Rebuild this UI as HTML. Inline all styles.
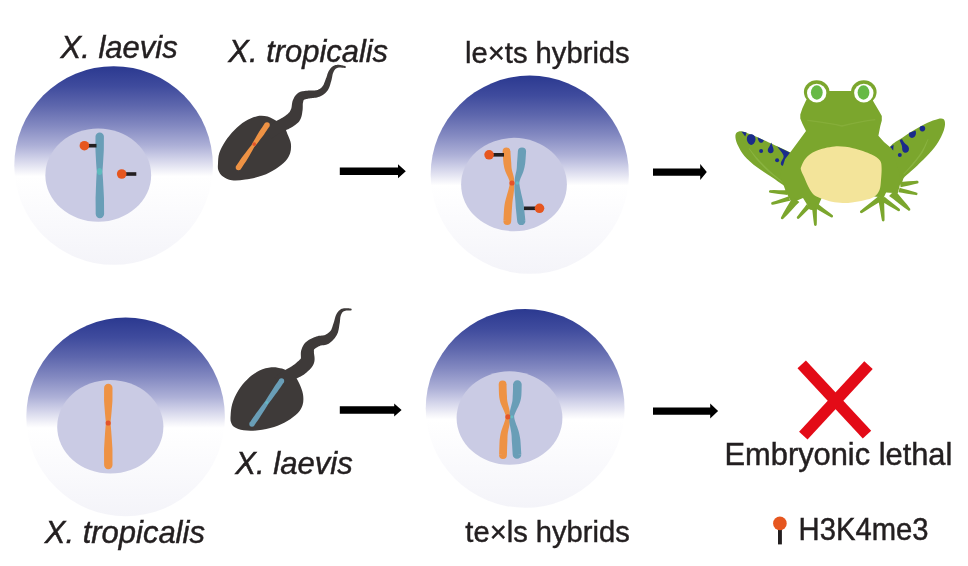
<!DOCTYPE html>
<html><head><meta charset="utf-8"><title>Xenopus hybrids</title>
<style>
html,body{margin:0;padding:0;background:#fff;width:968px;height:566px;overflow:hidden}
svg{display:block;will-change:transform}
text{font-family:"Liberation Sans",sans-serif;fill:#231f20;stroke:#231f20;stroke-width:0.45}
</style></head><body>
<svg width="968" height="566" viewBox="0 0 968 566"><defs><linearGradient id="cg" x1="0" y1="0" x2="0" y2="1">
<stop offset="0" stop-color="#2b3990"/>
<stop offset="0.1" stop-color="#3f4b9d"/>
<stop offset="0.2" stop-color="#5e67ad"/>
<stop offset="0.3" stop-color="#8389c1"/>
<stop offset="0.4" stop-color="#adb0d7"/>
<stop offset="0.47" stop-color="#d3d4ea"/>
<stop offset="0.53" stop-color="#f3f3f9"/>
<stop offset="0.555" stop-color="#ffffff"/>
<stop offset="0.8" stop-color="#f9f9fc"/>
<stop offset="1" stop-color="#f4f4f9"/>
</linearGradient></defs><circle cx="113.6" cy="165.5" r="99.3" fill="url(#cg)"/>
<circle cx="529.75" cy="174.7" r="99.1" fill="url(#cg)"/>
<circle cx="125.6" cy="416.9" r="99.3" fill="url(#cg)"/>
<circle cx="525.15" cy="408.4" r="99.4" fill="url(#cg)"/>
<ellipse cx="98.25" cy="175.15" rx="52.9" ry="46.6" fill="#cacbe4"/>
<ellipse cx="514" cy="184.55" rx="52.9" ry="46.7" fill="#cacbe4"/>
<ellipse cx="110.3" cy="426.8" rx="53.1" ry="46.8" fill="#cacbe4"/>
<ellipse cx="509.5" cy="418.05" rx="52.9" ry="46.7" fill="#cacbe4"/>
<path d="M95.5,136.59 L95.5,137.79 L95.49,139.22 L95.48,140.85 L95.47,142.67 L95.46,144.65 L95.45,146.78 L95.44,149.02 L95.52,151.38 L95.64,153.81 L95.77,156.31 L95.9,158.85 L96.05,161.42 L96.2,163.98 L96.37,166.54 L96.56,169.05 L96.79,171.51 L96.59,174.04 L96.43,176.76 L96.29,179.62 L96.16,182.61 L96.03,185.67 L95.9,188.78 L95.79,191.89 L95.68,194.96 L95.57,197.97 L95.59,200.88 L95.62,203.64 L95.64,206.22 L95.66,208.59 L95.67,210.7 L95.69,212.53 L95.7,214.03 L104.1,213.97 L104.09,212.46 L104.07,210.64 L104.06,208.52 L104.04,206.15 L104.01,203.57 L103.99,200.81 L103.96,197.9 L103.81,194.9 L103.65,191.83 L103.49,188.72 L103.32,185.62 L103.15,182.56 L102.98,179.59 L102.81,176.72 L102.63,174.01 L102.41,171.49 L102.63,169.04 L102.82,166.54 L102.99,163.99 L103.15,161.43 L103.31,158.87 L103.46,156.33 L103.6,153.84 L103.74,151.41 L103.84,149.06 L103.85,146.82 L103.86,144.69 L103.87,142.71 L103.88,140.9 L103.89,139.26 L103.9,137.83 L103.9,136.61Z M95.5,136.6 a4.2,4.2 0 1,0 8.4,0 a4.2,4.2 0 1,0 -8.4,0Z M95.7,214 a4.2,4.2 0 1,0 8.4,0 a4.2,4.2 0 1,0 -8.4,0Z" fill="#699eb7"/>
<ellipse cx="99.6" cy="171.5" rx="2.6" ry="3.6" fill="#5cc4bf" opacity="0.75"/>
<rect x="86" y="143.9" width="10.5" height="3.6" fill="#231f20"/>
<circle cx="84.4" cy="145.7" r="4.8" fill="#e6561f"/>
<rect x="123" y="172.2" width="13.3" height="3.6" fill="#231f20"/>
<circle cx="121.7" cy="174" r="4.8" fill="#e6561f"/>
<path d="M104.1,387.99 L104.1,389.2 L104.09,390.64 L104.08,392.28 L104.08,394.11 L104.07,396.1 L104.06,398.24 L104.05,400.5 L104.18,402.86 L104.36,405.31 L104.55,407.81 L104.75,410.36 L104.96,412.93 L105.18,415.5 L105.42,418.05 L105.69,420.55 L105.94,423 L105.66,425.51 L105.43,428.21 L105.21,431.05 L105,434 L104.79,437.03 L104.6,440.09 L104.4,443.16 L104.22,446.2 L104.05,449.17 L104.06,452.03 L104.07,454.75 L104.08,457.3 L104.08,459.64 L104.09,461.72 L104.1,463.53 L104.1,465.01 L112.5,464.99 L112.5,463.5 L112.49,461.7 L112.48,459.61 L112.48,457.28 L112.47,454.73 L112.46,452.01 L112.45,449.14 L112.26,446.18 L112.07,443.14 L111.86,440.07 L111.65,437.01 L111.43,433.99 L111.21,431.04 L110.98,428.2 L110.74,425.51 L110.46,423 L110.71,420.56 L110.98,418.05 L111.23,415.51 L111.47,412.95 L111.69,410.38 L111.9,407.84 L112.11,405.33 L112.3,402.89 L112.45,400.53 L112.46,398.27 L112.47,396.13 L112.48,394.14 L112.48,392.31 L112.49,390.67 L112.5,389.23 L112.5,388.01Z M104.1,388 a4.2,4.2 0 1,0 8.4,0 a4.2,4.2 0 1,0 -8.4,0Z M104.1,465 a4.2,4.2 0 1,0 8.4,0 a4.2,4.2 0 1,0 -8.4,0Z" fill="#ee9244"/>
<circle cx="108.2" cy="423" r="2.6" fill="#e4542a"/>
<path d="M502.61,151.81 L502.68,152.59 L502.74,153.57 L502.82,154.75 L502.9,156.09 L503,157.55 L503.11,159.1 L503.23,160.71 L503.38,162.35 L503.55,164 L503.85,165.6 L504.16,167.15 L504.51,168.64 L504.92,170.09 L505.4,171.48 L505.93,172.77 L506.48,173.99 L507.03,175.13 L507.56,176.24 L508.07,177.31 L508.54,178.38 L508.96,179.46 L509.34,180.58 L509.66,181.75 L509.83,183.03 L509.62,184.42 L509.34,185.93 L508.99,187.53 L508.57,189.22 L508.1,190.96 L507.59,192.74 L507.07,194.56 L506.54,196.38 L506.03,198.2 L505.56,200.01 L505.13,201.79 L504.78,203.52 L504.49,205.2 L504.27,206.9 L504.12,208.62 L503.99,210.32 L503.88,211.98 L503.79,213.59 L503.7,215.12 L503.63,216.54 L503.57,217.85 L503.51,219 L503.46,219.97 L503.41,220.76 L511.19,221.24 L511.24,220.42 L511.3,219.4 L511.36,218.23 L511.42,216.94 L511.49,215.53 L511.57,214.04 L511.67,212.47 L511.78,210.87 L511.9,209.24 L512.04,207.62 L512.14,206.02 L512.22,204.48 L512.34,202.95 L512.52,201.32 L512.75,199.58 L513.01,197.77 L513.28,195.9 L513.56,194.01 L513.82,192.1 L514.04,190.19 L514.21,188.31 L514.3,186.47 L514.3,184.68 L514.17,182.97 L514.18,181.34 L514.14,179.77 L513.97,178.27 L513.72,176.84 L513.41,175.49 L513.06,174.2 L512.71,172.97 L512.37,171.79 L512.07,170.66 L511.82,169.55 L511.62,168.47 L511.49,167.36 L511.4,166.1 L511.33,164.69 L511.28,163.19 L511.14,161.65 L511.01,160.08 L510.89,158.53 L510.78,157.02 L510.69,155.58 L510.6,154.25 L510.53,153.05 L510.45,152.01 L510.39,151.19Z M502.6,151.5 a3.9,3.9 0 1,0 7.8,0 a3.9,3.9 0 1,0 -7.8,0Z M503.4,221 a3.9,3.9 0 1,0 7.8,0 a3.9,3.9 0 1,0 -7.8,0Z" fill="#ee9244"/>
<path d="M517.91,151.16 L517.85,151.99 L517.77,153.02 L517.69,154.22 L517.6,155.55 L517.49,156.98 L517.38,158.5 L517.26,160.06 L517.12,161.63 L516.99,163.18 L516.95,164.69 L516.89,166.11 L516.82,167.39 L516.72,168.53 L516.56,169.63 L516.36,170.74 L516.11,171.89 L515.84,173.06 L515.56,174.29 L515.29,175.56 L515.05,176.9 L514.85,178.31 L514.73,179.78 L514.71,181.33 L514.73,182.93 L514.55,184.61 L514.47,186.37 L514.47,188.19 L514.52,190.05 L514.62,191.94 L514.75,193.85 L514.91,195.74 L515.07,197.62 L515.23,199.44 L515.38,201.2 L515.5,202.88 L515.59,204.46 L515.67,206.06 L515.79,207.71 L515.96,209.37 L516.14,211.02 L516.31,212.66 L516.48,214.24 L516.63,215.75 L516.78,217.16 L516.91,218.46 L517.03,219.62 L517.14,220.62 L517.22,221.43 L525.38,220.57 L525.29,219.77 L525.19,218.78 L525.07,217.62 L524.94,216.32 L524.79,214.9 L524.63,213.39 L524.47,211.8 L524.3,210.16 L524.12,208.49 L523.94,206.82 L523.69,205.17 L523.41,203.54 L523.09,201.86 L522.73,200.12 L522.33,198.34 L521.92,196.53 L521.5,194.72 L521.08,192.9 L520.68,191.11 L520.31,189.36 L519.97,187.66 L519.69,186.03 L519.45,184.49 L519.27,183.07 L519.46,181.76 L519.79,180.56 L520.15,179.42 L520.55,178.32 L520.98,177.24 L521.44,176.15 L521.92,175.04 L522.41,173.89 L522.89,172.68 L523.36,171.4 L523.8,170.04 L524.18,168.61 L524.51,167.14 L524.81,165.6 L525.11,164.01 L525.29,162.37 L525.43,160.74 L525.56,159.13 L525.67,157.58 L525.78,156.12 L525.87,154.78 L525.95,153.6 L526.02,152.62 L526.09,151.84Z M517.9,151.5 a4.1,4.1 0 1,0 8.2,0 a4.1,4.1 0 1,0 -8.2,0Z M517.2,221 a4.1,4.1 0 1,0 8.2,0 a4.1,4.1 0 1,0 -8.2,0Z" fill="#699eb7"/>
<circle cx="512" cy="183" r="2.6" fill="#e4542a"/>
<circle cx="517.2" cy="183" r="1.8" fill="#63c3c9" opacity="0.8"/>
<rect x="491" y="153" width="13" height="3.6" fill="#231f20"/>
<circle cx="489.1" cy="154.8" r="4.8" fill="#e6561f"/>
<rect x="524" y="206.5" width="13" height="3.6" fill="#231f20"/>
<circle cx="539.5" cy="208.3" r="4.8" fill="#e6561f"/>
<path d="M498.7,384.67 L498.73,385.38 L498.76,386.26 L498.78,387.33 L498.8,388.55 L498.84,389.9 L498.88,391.33 L498.94,392.84 L499.01,394.39 L499.12,395.97 L499.3,397.54 L499.58,399.09 L499.9,400.62 L500.32,402.15 L500.82,403.65 L501.38,405.1 L501.98,406.5 L502.59,407.87 L503.2,409.21 L503.78,410.51 L504.32,411.8 L504.81,413.07 L505.24,414.32 L505.6,415.57 L505.69,416.83 L505.5,418.1 L505.23,419.38 L504.88,420.7 L504.45,422.05 L503.97,423.44 L503.44,424.88 L502.89,426.35 L502.34,427.88 L501.79,429.46 L501.28,431.09 L500.82,432.79 L500.45,434.52 L500.14,436.3 L499.87,438.16 L499.63,440.1 L499.52,442.08 L499.43,444.06 L499.36,446.01 L499.3,447.88 L499.25,449.65 L499.21,451.27 L499.18,452.7 L499.14,453.89 L499.1,454.84 L506.9,455.16 L506.94,454.16 L506.97,452.91 L507.01,451.46 L507.05,449.85 L507.1,448.11 L507.15,446.27 L507.22,444.38 L507.31,442.47 L507.42,440.59 L507.44,438.76 L507.48,437.03 L507.55,435.48 L507.68,434.04 L507.88,432.6 L508.14,431.13 L508.45,429.62 L508.79,428.08 L509.13,426.52 L509.46,424.94 L509.76,423.34 L510.01,421.72 L510.16,420.08 L510.21,418.43 L510.11,416.77 L510.03,415.12 L509.97,413.48 L509.79,411.87 L509.51,410.29 L509.18,408.76 L508.8,407.26 L508.42,405.8 L508.05,404.4 L507.71,403.05 L507.43,401.76 L507.23,400.55 L507.1,399.38 L507.02,398.14 L506.98,396.78 L506.9,395.37 L506.8,393.93 L506.73,392.49 L506.67,391.07 L506.63,389.69 L506.6,388.39 L506.58,387.18 L506.56,386.08 L506.53,385.11 L506.5,384.33Z M498.7,384.5 a3.9,3.9 0 1,0 7.8,0 a3.9,3.9 0 1,0 -7.8,0Z M499.1,455 a3.9,3.9 0 1,0 7.8,0 a3.9,3.9 0 1,0 -7.8,0Z" fill="#ee9244"/>
<path d="M513.1,384.32 L513.07,385.11 L513.05,386.08 L513.03,387.18 L513.01,388.39 L512.98,389.69 L512.95,391.06 L512.89,392.48 L512.82,393.91 L512.73,395.34 L512.66,396.73 L512.63,398.07 L512.56,399.29 L512.45,400.43 L512.25,401.63 L511.97,402.91 L511.63,404.26 L511.26,405.66 L510.87,407.13 L510.48,408.64 L510.14,410.19 L509.85,411.79 L509.67,413.42 L509.62,415.08 L509.44,416.73 L509.29,418.4 L509.29,420.07 L509.4,421.72 L509.6,423.36 L509.85,424.99 L510.15,426.59 L510.45,428.16 L510.76,429.71 L511.04,431.22 L511.28,432.7 L511.46,434.14 L511.58,435.57 L511.66,437.11 L511.72,438.82 L511.78,440.61 L511.93,442.46 L512.07,444.32 L512.19,446.16 L512.3,447.95 L512.4,449.64 L512.49,451.21 L512.57,452.62 L512.64,453.83 L512.71,454.8 L521.29,454.2 L521.23,453.28 L521.15,452.11 L521.08,450.72 L520.99,449.15 L520.88,447.43 L520.77,445.61 L520.65,443.72 L520.51,441.79 L520.35,439.87 L520.07,437.98 L519.76,436.17 L519.42,434.43 L519.02,432.72 L518.55,431.05 L518.03,429.43 L517.48,427.86 L516.92,426.35 L516.38,424.88 L515.86,423.45 L515.39,422.07 L514.97,420.72 L514.62,419.41 L514.35,418.13 L514.16,416.87 L514.2,415.62 L514.62,414.39 L515.09,413.15 L515.63,411.9 L516.23,410.63 L516.86,409.33 L517.51,408.01 L518.18,406.65 L518.82,405.24 L519.43,403.79 L519.98,402.27 L520.44,400.71 L520.79,399.16 L521.1,397.6 L521.3,396.01 L521.41,394.42 L521.49,392.85 L521.54,391.34 L521.58,389.89 L521.61,388.55 L521.63,387.33 L521.65,386.26 L521.67,385.38 L521.7,384.68Z M513.1,384.5 a4.3,4.3 0 1,0 8.6,0 a4.3,4.3 0 1,0 -8.6,0Z M512.7,454.5 a4.3,4.3 0 1,0 8.6,0 a4.3,4.3 0 1,0 -8.6,0Z" fill="#699eb7"/>
<circle cx="507.9" cy="416.8" r="2.6" fill="#e4542a"/>
<circle cx="511.8" cy="416.8" r="1.6" fill="#63c3c9" opacity="0.8"/>
<path d="M218,163.7 C218.15,160.83 218.08,156.85 219.3,153.1 C220.52,149.35 222.77,145.07 225.3,141.2 C227.83,137.33 231.18,133.22 234.5,129.9 C237.82,126.58 241.43,123.58 245.2,121.3 C248.97,119.02 253.35,116.98 257.1,116.2 C260.85,115.42 264.38,115.75 267.7,116.6 C271.02,117.45 274.45,120.07 277,121.3 C279.55,122.53 281.13,121.58 283,124 C284.87,126.42 286.88,132.5 288.2,135.8 C289.52,139.1 290.57,140.92 290.9,143.8 C291.23,146.68 291.08,150.23 290.2,153.1 C289.32,155.97 288.02,158.35 285.6,161 C283.18,163.65 279.57,166.57 275.7,169 C271.83,171.43 267.48,173.83 262.4,175.6 C257.32,177.37 250.28,178.82 245.2,179.6 C240.12,180.38 235.67,180.85 231.9,180.3 C228.13,179.75 224.85,177.97 222.6,176.3 C220.35,174.63 219.17,172.4 218.4,170.3 C217.63,168.2 217.85,166.57 218,163.7Z" fill="#3e3a39"/>
<path d="M271.48,138.88 L272.11,138.44 L272.91,137.86 L273.83,137.18 L274.85,136.44 L275.94,135.65 L277.06,134.85 L278.18,134.07 L279.26,133.33 L280.25,132.67 L281.1,132.14 L281.87,131.75 L282.65,131.4 L283.47,131.05 L284.33,130.71 L285.24,130.36 L286.19,129.99 L287.19,129.59 L288.24,129.13 L289.33,128.61 L290.38,128.05 L291.3,127.51 L292.16,126.98 L293.05,126.42 L293.95,125.84 L294.86,125.21 L295.77,124.54 L296.68,123.81 L297.58,123.01 L298.46,122.13 L299.31,121.16 L299.99,120.05 L300.56,118.93 L301.02,117.83 L301.38,116.77 L301.66,115.75 L301.88,114.78 L302.05,113.87 L302.18,113 L302.28,112.19 L302.4,111.3 L302.58,110.23 L302.69,109.11 L302.74,108.08 L302.76,107.12 L302.76,106.25 L302.76,105.46 L302.77,104.78 L302.78,104.22 L302.8,103.81 L302.84,103.45 L302.92,102.97 L303.03,102.42 L303.14,101.94 L303.23,101.52 L303.33,101.17 L303.41,100.87 L303.48,100.64 L303.53,100.45 L303.58,100.29 L303.63,100.15 L303.71,100.04 L303.86,99.91 L304.12,99.76 L304.49,99.6 L304.97,99.43 L305.55,99.27 L306.22,99.1 L306.98,98.93 L307.81,98.74 L308.62,98.55 L309.38,98.39 L310.22,98.26 L311.19,98.15 L312.26,98.04 L313.39,97.93 L314.58,97.8 L315.79,97.64 L317.02,97.42 L318.25,97.11 L319.43,96.71 L320.48,96.28 L321.45,95.81 L322.37,95.29 L323.24,94.73 L324.08,94.12 L324.87,93.47 L325.62,92.77 L326.32,92.04 L326.97,91.27 L327.61,90.44 L328.21,89.49 L328.74,88.49 L329.19,87.47 L329.58,86.46 L329.92,85.46 L330.23,84.47 L330.5,83.52 L330.76,82.61 L331,81.76 L331.25,80.93 L331.49,80.05 L331.7,79.15 L331.88,78.28 L332.04,77.44 L332.18,76.65 L332.32,75.9 L332.45,75.2 L332.59,74.57 L332.74,73.99 L332.9,73.46 L333.09,72.93 L333.3,72.41 L333.52,71.91 L333.74,71.44 L333.97,71.01 L334.21,70.6 L334.45,70.22 L334.69,69.88 L334.94,69.56 L335.2,69.28 L335.46,69.02 L335.72,68.78 L335.99,68.58 L336.28,68.39 L336.59,68.22 L336.92,68.06 L337.29,67.92 L337.69,67.8 L338.12,67.69 L338.58,67.6 L339.08,67.54 L339.68,67.52 L340.37,67.53 L341.1,67.57 L341.85,67.64 L342.59,67.71 L343.28,67.78 L343.91,67.84 L344.45,67.88 L344.87,67.89 L345.13,66.11 L344.75,66 L344.26,65.87 L343.65,65.71 L342.96,65.54 L342.21,65.36 L341.43,65.2 L340.65,65.05 L339.87,64.92 L339.12,64.84 L338.42,64.8 L337.8,64.81 L337.22,64.84 L336.64,64.89 L336.08,64.98 L335.51,65.1 L334.95,65.26 L334.4,65.46 L333.86,65.7 L333.33,65.99 L332.8,66.32 L332.29,66.7 L331.8,67.11 L331.33,67.56 L330.87,68.04 L330.44,68.56 L330.02,69.09 L329.62,69.66 L329.24,70.25 L328.87,70.87 L328.5,71.54 L328.15,72.27 L327.83,73.04 L327.55,73.82 L327.29,74.6 L327.04,75.38 L326.8,76.14 L326.56,76.9 L326.31,77.63 L326.05,78.34 L325.75,79.07 L325.43,79.9 L325.11,80.78 L324.79,81.66 L324.47,82.53 L324.14,83.37 L323.8,84.16 L323.46,84.89 L323.11,85.54 L322.76,86.09 L322.39,86.56 L321.98,87.03 L321.53,87.5 L321.06,87.93 L320.58,88.33 L320.07,88.69 L319.54,89.03 L318.98,89.34 L318.4,89.62 L317.78,89.88 L317.17,90.09 L316.55,90.22 L315.82,90.32 L314.95,90.38 L313.98,90.42 L312.94,90.44 L311.85,90.45 L310.73,90.46 L309.6,90.49 L308.45,90.55 L307.38,90.65 L306.49,90.75 L305.68,90.83 L304.85,90.91 L304.01,91.01 L303.14,91.13 L302.25,91.3 L301.31,91.53 L300.34,91.85 L299.35,92.28 L298.37,92.85 L297.45,93.5 L296.63,94.21 L295.91,94.98 L295.27,95.77 L294.72,96.57 L294.24,97.37 L293.82,98.16 L293.44,98.94 L293.1,99.7 L292.76,100.55 L292.44,101.59 L292.19,102.69 L292.02,103.71 L291.89,104.67 L291.79,105.57 L291.69,106.38 L291.58,107.11 L291.47,107.74 L291.35,108.23 L291.2,108.7 L290.94,109.31 L290.67,109.98 L290.4,110.58 L290.14,111.11 L289.89,111.56 L289.64,111.94 L289.39,112.25 L289.15,112.49 L288.92,112.68 L288.69,112.84 L288.5,113.1 L288.22,113.41 L287.87,113.78 L287.43,114.18 L286.92,114.6 L286.34,115.05 L285.71,115.52 L285.03,116 L284.3,116.49 L283.62,116.95 L283.04,117.35 L282.45,117.72 L281.77,118.1 L280.99,118.51 L280.14,118.95 L279.2,119.42 L278.2,119.94 L277.14,120.51 L276.03,121.15 L274.9,121.86 L273.74,122.59 L272.55,123.38 L271.34,124.21 L270.12,125.06 L268.93,125.91 L267.8,126.73 L266.76,127.49 L265.84,128.16 L265.09,128.71 L264.52,129.12Z M344.1,67 a0.9,0.9 0 1,0 1.8,0 a0.9,0.9 0 1,0 -1.8,0Z" fill="#3e3a39"/>
<path d="M240.83,169.06 L241.77,167.65 L243.01,165.81 L244.47,163.62 L246.11,161.18 L247.73,158.46 L249.4,155.63 L251.06,152.78 L252.66,149.99 L254.11,147.33 L255.83,145.19 L257.44,143.13 L259.08,140.99 L260.73,138.84 L262.34,136.71 L263.9,134.64 L265.27,132.62 L266.52,130.75 L267.63,129.09 L268.58,127.68 L269.33,126.56 L264.67,123.44 L263.93,124.56 L262.98,125.97 L261.87,127.63 L260.61,129.5 L259.26,131.53 L257.94,133.76 L256.59,136.07 L255.22,138.4 L253.87,140.73 L252.57,143.01 L251.24,145.41 L249.33,147.76 L247.36,150.3 L245.35,152.92 L243.37,155.53 L241.46,158.06 L239.82,160.5 L238.36,162.69 L237.12,164.53 L236.17,165.94Z M235.7,167.5 a2.8,2.8 0 1,0 5.6,0 a2.8,2.8 0 1,0 -5.6,0Z M264.2,125 a2.8,2.8 0 1,0 5.6,0 a2.8,2.8 0 1,0 -5.6,0Z" fill="#ee9244"/>
<circle cx="254.2" cy="144.1" r="1.9" fill="#e4542a"/>
<path d="M230.6,415.7 C230.82,412.62 231.02,408 232.3,403.8 C233.58,399.6 235.77,394.6 238.3,390.5 C240.83,386.4 243.97,382.52 247.5,379.2 C251.03,375.88 255.52,372.58 259.5,370.6 C263.48,368.62 267.65,367.63 271.4,367.3 C275.15,366.97 279.12,367.83 282,368.6 C284.88,369.37 286.53,370.67 288.7,371.9 C290.87,373.13 293.02,373.57 295,376 C296.98,378.43 299.23,383.2 300.6,386.5 C301.97,389.8 302.87,392.7 303.2,395.8 C303.53,398.9 303.48,402.23 302.6,405.1 C301.72,407.97 300.45,410.35 297.9,413 C295.35,415.65 291.27,418.67 287.3,421 C283.33,423.33 278.95,425.45 274.1,427 C269.25,428.55 263.28,429.75 258.2,430.3 C253.12,430.85 247.58,430.85 243.6,430.3 C239.62,429.75 236.4,428.33 234.3,427 C232.2,425.67 231.62,424.18 231,422.3 C230.38,420.42 230.38,418.78 230.6,415.7Z" fill="#3e3a39"/>
<path d="M281.36,386.97 L281.92,386.59 L282.65,386.09 L283.5,385.51 L284.44,384.86 L285.44,384.18 L286.46,383.49 L287.48,382.81 L288.44,382.17 L289.32,381.61 L290.06,381.16 L290.71,380.85 L291.32,380.58 L291.93,380.33 L292.56,380.09 L293.22,379.84 L293.91,379.58 L294.66,379.29 L295.47,378.96 L296.33,378.58 L297.17,378.18 L297.92,377.81 L298.65,377.45 L299.42,377.08 L300.22,376.67 L301.06,376.23 L301.92,375.75 L302.81,375.22 L303.72,374.64 L304.65,374 L305.51,373.35 L306.25,372.71 L307.01,372.07 L307.82,371.35 L308.68,370.56 L309.56,369.69 L310.46,368.74 L311.36,367.68 L312.24,366.5 L313.06,365.15 L313.82,363.55 L314.33,361.72 L314.56,359.96 L314.59,358.41 L314.5,357.06 L314.36,355.88 L314.22,354.88 L314.09,354.06 L314.01,353.47 L313.95,353.15 L313.94,352.91 L313.93,352.41 L313.94,351.79 L313.95,351.29 L313.94,350.9 L313.93,350.6 L313.9,350.39 L313.87,350.22 L313.85,350.06 L313.86,349.88 L313.93,349.65 L314.13,349.39 L314.47,349.06 L314.94,348.67 L315.51,348.25 L316.16,347.82 L316.86,347.39 L317.6,346.97 L318.35,346.58 L319.09,346.2 L319.71,345.9 L320.16,345.72 L320.62,345.6 L321.22,345.48 L321.95,345.37 L322.81,345.26 L323.8,345.13 L324.89,344.94 L326.1,344.65 L327.39,344.22 L328.63,343.65 L329.66,342.96 L330.59,342.26 L331.49,341.51 L332.37,340.71 L333.21,339.86 L334.02,338.97 L334.79,338.04 L335.51,337.07 L336.17,336.06 L336.78,334.98 L337.35,333.84 L337.81,332.65 L338.17,331.48 L338.47,330.32 L338.71,329.18 L338.91,328.08 L339.07,327.03 L339.22,326.03 L339.36,325.11 L339.51,324.23 L339.67,323.32 L339.81,322.4 L339.92,321.52 L340,320.69 L340.07,319.9 L340.14,319.17 L340.21,318.49 L340.28,317.87 L340.36,317.31 L340.47,316.79 L340.6,316.27 L340.75,315.75 L340.91,315.26 L341.08,314.8 L341.26,314.37 L341.44,313.96 L341.63,313.58 L341.83,313.23 L342.03,312.9 L342.24,312.6 L342.46,312.34 L342.68,312.11 L342.91,311.9 L343.15,311.71 L343.42,311.53 L343.71,311.36 L344.04,311.21 L344.4,311.06 L344.8,310.91 L345.21,310.78 L345.66,310.68 L346.2,310.6 L346.8,310.55 L347.45,310.51 L348.11,310.49 L348.77,310.47 L349.38,310.46 L349.94,310.45 L350.41,310.43 L350.78,310.4 L350.82,308.6 L350.48,308.55 L350.03,308.49 L349.48,308.42 L348.86,308.35 L348.19,308.29 L347.49,308.23 L346.78,308.19 L346.08,308.17 L345.41,308.17 L344.79,308.22 L344.24,308.27 L343.73,308.34 L343.22,308.43 L342.71,308.54 L342.21,308.68 L341.7,308.86 L341.2,309.08 L340.71,309.34 L340.23,309.65 L339.76,310 L339.3,310.38 L338.86,310.79 L338.44,311.24 L338.03,311.71 L337.64,312.22 L337.27,312.76 L336.92,313.32 L336.58,313.92 L336.25,314.54 L335.93,315.21 L335.64,315.94 L335.37,316.71 L335.15,317.47 L334.94,318.24 L334.75,319 L334.56,319.76 L334.37,320.51 L334.17,321.25 L333.95,321.99 L333.69,322.77 L333.39,323.65 L333.09,324.61 L332.79,325.58 L332.49,326.53 L332.18,327.46 L331.86,328.34 L331.52,329.15 L331.16,329.88 L330.8,330.5 L330.42,331.02 L329.95,331.51 L329.42,332.03 L328.84,332.54 L328.22,333.04 L327.57,333.5 L326.91,333.93 L326.23,334.33 L325.56,334.67 L324.91,334.96 L324.37,335.15 L324.02,335.29 L323.67,335.37 L323.18,335.44 L322.56,335.51 L321.8,335.56 L320.91,335.63 L319.9,335.72 L318.76,335.87 L317.51,336.13 L316.29,336.5 L315.22,336.88 L314.21,337.25 L313.18,337.67 L312.14,338.13 L311.09,338.63 L310.05,339.17 L309.02,339.76 L308.01,340.4 L307.02,341.13 L306.07,341.95 L305.17,342.81 L304.37,343.72 L303.68,344.69 L303.09,345.67 L302.6,346.65 L302.2,347.59 L301.87,348.48 L301.59,349.32 L301.34,350.11 L301.06,351.09 L300.87,352.44 L300.81,353.84 L300.83,355.05 L300.88,356.11 L300.91,357.02 L300.92,357.76 L300.89,358.3 L300.83,358.6 L300.78,358.62 L300.78,358.45 L300.78,358.43 L300.65,358.64 L300.4,358.97 L300.04,359.39 L299.59,359.87 L299.05,360.39 L298.45,360.95 L297.8,361.52 L297.12,362.11 L296.49,362.65 L296.01,363.11 L295.56,363.51 L295.09,363.91 L294.58,364.31 L294.03,364.71 L293.45,365.11 L292.83,365.53 L292.17,365.95 L291.49,366.4 L290.83,366.82 L290.29,367.18 L289.8,367.49 L289.26,367.8 L288.68,368.12 L288.03,368.47 L287.33,368.85 L286.56,369.27 L285.73,369.73 L284.86,370.26 L283.94,370.84 L282.96,371.44 L281.92,372.1 L280.85,372.8 L279.76,373.53 L278.69,374.26 L277.66,374.96 L276.7,375.62 L275.86,376.2 L275.17,376.67 L274.64,377.03Z M349.9,309.5 a0.9,0.9 0 1,0 1.8,0 a0.9,0.9 0 1,0 -1.8,0Z" fill="#3e3a39"/>
<path d="M254.22,425.53 L255.1,424.25 L256.24,422.61 L257.58,420.66 L259.08,418.48 L260.66,416.09 L262.27,413.57 L263.9,411 L265.5,408.45 L267.04,405.97 L268.45,403.63 L270.13,401.48 L271.88,399.16 L273.68,396.74 L275.49,394.3 L277.26,391.9 L278.91,389.57 L280.4,387.39 L281.73,385.45 L282.86,383.8 L283.73,382.52 L279.27,379.48 L278.4,380.76 L277.27,382.4 L275.94,384.35 L274.45,386.53 L272.89,388.91 L271.3,391.44 L269.68,394.01 L268.08,396.56 L266.55,399.03 L265.15,401.37 L263.47,403.52 L261.72,405.84 L259.91,408.25 L258.09,410.69 L256.3,413.09 L254.64,415.42 L253.13,417.6 L251.79,419.54 L250.66,421.19 L249.78,422.47Z M249.3,424 a2.7,2.7 0 1,0 5.4,0 a2.7,2.7 0 1,0 -5.4,0Z M278.8,381 a2.7,2.7 0 1,0 5.4,0 a2.7,2.7 0 1,0 -5.4,0Z" fill="#699eb7"/>
<circle cx="266.8" cy="402.5" r="1.5" fill="#63c3c9" opacity="0.7"/>
<polygon points="339.8,167.5 398,167.5 398,164.2 405.8,171.2 398,178.2 398,174.9 339.8,174.9" fill="#000"/>
<polygon points="653,168.4 700.2,168.4 700.2,164.1 706.8,172.1 700.2,180.1 700.2,175.8 653,175.8" fill="#000"/>
<polygon points="339.8,406.3 394.2,406.3 394.2,403.4 401.6,410 394.2,416.6 394.2,413.7 339.8,413.7" fill="#000"/>
<polygon points="653,407.4 710.2,407.4 710.2,403.6 718.1,411.1 710.2,418.6 710.2,414.8 653,414.8" fill="#000"/>
<g stroke="#e30b17" stroke-width="11.5" stroke-linecap="butt"><line x1="801.7" y1="364.3" x2="867" y2="434.6"/><line x1="868.5" y1="365.2" x2="803.3" y2="435.6"/></g>
<rect x="778" y="525" width="3.9" height="19.4" fill="#231f20"/>
<circle cx="779.9" cy="523.4" r="6.8" fill="#e6561f"/>
<path d="M736.3,133 C737.35,131.82 739.52,131.18 741.9,131.4 C744.28,131.62 747.1,132.9 750.6,134.3 C754.1,135.7 758.78,137.95 762.9,139.8 C767.02,141.65 770.55,143.13 775.3,145.4 C780.05,147.67 787.78,150.13 791.4,153.4 C795.02,156.67 796.73,159.23 797,165 C797.27,170.77 794.15,183.75 793,188 C791.85,192.25 791.62,190.9 790.1,190.5 C788.58,190.1 786.98,187.87 783.9,185.6 C780.82,183.33 776.13,180 771.6,176.9 C767.07,173.8 761.23,170.5 756.7,167 C752.17,163.5 747.48,159.4 744.4,155.9 C741.32,152.4 739.67,148.9 738.2,146 C736.73,143.1 735.92,140.67 735.6,138.5 C735.28,136.33 735.25,134.18 736.3,133Z" fill="#7ba62d"/>
<path d="M943.7,119.3 C942.55,118.37 940.88,118.28 938.1,118.9 C935.32,119.52 930.92,121.18 927,123 C923.08,124.82 918.72,127.33 914.6,129.8 C910.48,132.27 906.42,134.92 902.3,137.8 C898.18,140.68 892.95,142.57 889.9,147.1 C886.85,151.63 882.32,159.18 884,165 C885.68,170.82 896.55,180.03 900,182 C903.45,183.97 901.85,179.52 904.7,176.8 C907.55,174.08 912.97,169.62 917.1,165.7 C921.23,161.78 926,157.22 929.5,153.3 C933,149.38 935.83,145.7 938.1,142.2 C940.37,138.7 941.95,135.25 943.1,132.3 C944.25,129.35 944.9,126.67 945,124.5 C945.1,122.33 944.85,120.23 943.7,119.3Z" fill="#7ba62d"/>
<path d="M748.76,148.68 L749.38,149.6 L750.21,150.81 L751.19,152.24 L752.31,153.83 L753.53,155.52 L754.8,157.24 L756.11,158.93 L757.4,160.53 L758.76,162.03 L760.19,163.55 L761.66,165.09 L763.18,166.63 L764.74,168.16 L766.31,169.67 L767.89,171.16 L769.47,172.6 L771.19,174.02 L773.06,175.5 L774.99,176.99 L776.91,178.43 L778.73,179.78 L780.38,180.98 L781.77,181.99 L782.81,182.74 L783.19,182.26 L782.21,181.42 L780.9,180.31 L779.33,179.01 L777.59,177.57 L775.76,176.03 L773.91,174.46 L772.15,172.9 L770.53,171.4 L768.97,169.98 L767.41,168.51 L765.85,167.02 L764.32,165.5 L762.81,163.97 L761.35,162.45 L759.94,160.94 L758.6,159.47 L757.23,157.99 L755.85,156.4 L754.49,154.77 L753.19,153.17 L751.97,151.66 L750.89,150.3 L749.96,149.17 L749.24,148.32Z" fill="#8db745" opacity="0.8"/>
<path d="M927.93,138.97 L927.42,139.96 L926.77,141.27 L926.02,142.84 L925.18,144.58 L924.28,146.41 L923.32,148.25 L922.34,150.01 L921.36,151.61 L920.39,153.14 L919.34,154.67 L918.25,156.2 L917.11,157.71 L915.95,159.2 L914.77,160.67 L913.59,162.11 L912.43,163.52 L911.25,164.98 L909.96,166.51 L908.63,168.04 L907.31,169.54 L906.05,170.94 L904.92,172.2 L903.98,173.27 L903.28,174.09 L903.72,174.51 L904.49,173.76 L905.52,172.77 L906.73,171.59 L908.07,170.26 L909.48,168.83 L910.91,167.36 L912.29,165.9 L913.57,164.48 L914.75,163.06 L915.93,161.61 L917.12,160.13 L918.3,158.62 L919.46,157.09 L920.57,155.53 L921.64,153.97 L922.64,152.39 L923.56,150.67 L924.46,148.82 L925.33,146.91 L926.14,145.02 L926.88,143.22 L927.53,141.61 L928.07,140.25 L928.47,139.23Z" fill="#8db745" opacity="0.8"/>
<g fill="#1a2b8b"><path d="M741.4,131.6 L746.6,132.6 L745.2,136.4 Z"/><path d="M751,134.2 C754,134.2 755.8,136.8 755.5,139.8 C755.2,142.8 753,144.9 751.2,144.9 C749,144.9 746.8,142 746.8,138.8 C746.8,136 748.3,134.2 751,134.2Z"/><path d="M757.5,137.2 L763.8,140.2 C763.5,142 762,143 760.5,142.8 C759,142.4 758,140 757.5,137.2Z"/><circle cx="761.1" cy="151" r="2"/><path d="M771.3,142.6 C772,145.5 773.6,147.8 773.6,150.2 C773.6,152.2 772.2,153.2 770.6,153.2 C768.8,153.2 767.6,151.8 767.8,150 C768,148 770,146.5 771.3,142.6Z"/><path d="M777.2,146.4 L791.6,153.4 L788,158 C786.5,160 786,162 785.2,164 C784.5,165.6 783,166.2 781.8,165.6 C780.4,164.8 780.6,162.8 781.6,161 C782.8,159 784,157.6 783.5,155.5 C783,153 779.5,150 777.2,146.4Z"/><circle cx="777.1" cy="160.2" r="2"/><circle cx="922.4" cy="128.6" r="2.8"/><path d="M909.2,132.7 L915.5,130.6 C916.3,132.5 916.2,135 914.6,136.8 C913,138.4 910.5,138.2 909.4,136.5 C908.6,135.2 908.7,134 909.2,132.7Z"/><path d="M899.6,140.3 L902,138.9 C903,141.5 905,143.5 907,145 C909.3,146.7 909.6,150 908,151.8 C906.3,153.5 903.5,153 902.6,151 C901.8,149 902.5,147.4 901.8,145.5 C901.2,143.6 900.2,142 899.6,140.3Z"/><path d="M889.9,147.1 L893.6,144.8 L893.2,150.4 Z"/><circle cx="899.8" cy="155.1" r="2"/></g>
<polygon points="806,100.6 812,91 869,91 873.5,101.8 879,111.1 881.8,116 881.8,120.5 880.3,125.9 878.4,135.8 884,142 891.4,148.2 894,155 899,172 900.7,181.7 897.8,193.3 886.1,192.4 884,197 881.2,198.2 879,197 868.5,196 850,197 835,197 822.5,196 818,206.5 809.2,208 803,198.1 796,201 790.6,200.8 786,192 780,175 785,159.3 792.4,149.4 799.8,139.5 806,130.9 802.3,123.5 800.3,118.5 800.3,114.5 802.3,108.6" fill="#7ba62d"/>
<path d="M787.66,190.11 L784.15,190.17 L779.02,190.13 L773.9,190.09 L770.39,190.15 L770.21,192.85 L773.69,193.36 L778.78,193.97 L783.87,194.58 L787.34,195.09Z M768.95,191.5 a1.35,1.35 0 1,0 2.7,0 a1.35,1.35 0 1,0 -2.7,0Z" fill="#7ba62d"/>
<path d="M788.86,196.29 L785.48,197.51 L780.49,199.2 L775.51,200.88 L772.13,202.1 L772.87,204.7 L776.39,203.93 L781.51,202.7 L786.62,201.48 L790.14,200.71Z M771.15,203.4 a1.35,1.35 0 1,0 2.7,0 a1.35,1.35 0 1,0 -2.7,0Z" fill="#7ba62d"/>
<path d="M792.59,196.96 L790.37,201.15 L786.86,207.08 L783.34,213 L781.12,217.19 L783.28,218.81 L786.67,215.48 L791.34,210.42 L796.02,205.37 L799.41,202.04Z M780.85,218 a1.35,1.35 0 1,0 2.7,0 a1.35,1.35 0 1,0 -2.7,0Z" fill="#7ba62d"/>
<path d="M806.64,204.33 L804.74,206.88 L801.87,210.51 L798.99,214.15 L797.09,216.7 L799.11,218.5 L801.43,216.34 L804.73,213.09 L808.03,209.83 L810.36,207.67Z M796.75,217.6 a1.35,1.35 0 1,0 2.7,0 a1.35,1.35 0 1,0 -2.7,0Z" fill="#7ba62d"/>
<path d="M812,208.14 L812.47,211.49 L813.03,216.4 L813.58,221.32 L814.05,224.67 L816.75,224.53 L816.85,221.14 L816.87,216.2 L816.89,211.25 L817,207.86Z M814.05,224.6 a1.35,1.35 0 1,0 2.7,0 a1.35,1.35 0 1,0 -2.7,0Z" fill="#7ba62d"/>
<path d="M813.47,207.28 L817.06,209.27 L822.21,212.3 L827.36,215.34 L830.95,217.32 L832.45,215.08 L829.25,212.51 L824.49,208.9 L819.73,205.28 L816.53,202.72Z M830.35,216.2 a1.35,1.35 0 1,0 2.7,0 a1.35,1.35 0 1,0 -2.7,0Z" fill="#7ba62d"/>
<path d="M900.58,187.32 L903.99,186.49 L908.99,185.43 L913.98,184.37 L917.39,183.54 L917.01,180.86 L913.51,181 L908.41,181.37 L903.32,181.74 L899.82,181.88Z M915.85,182.2 a1.35,1.35 0 1,0 2.7,0 a1.35,1.35 0 1,0 -2.7,0Z" fill="#7ba62d"/>
<path d="M898.5,192.25 L902.05,192.79 L907.21,193.68 L912.36,194.58 L915.91,195.12 L916.49,192.48 L913.05,191.48 L907.99,190.12 L902.94,188.76 L899.5,187.75Z M914.85,193.8 a1.35,1.35 0 1,0 2.7,0 a1.35,1.35 0 1,0 -2.7,0Z" fill="#7ba62d"/>
<path d="M889.05,196.06 L893.01,198.87 L898.56,203.22 L904.11,207.56 L908.06,210.37 L909.94,208.43 L906.99,204.58 L902.44,199.18 L897.9,193.79 L894.95,189.94Z M907.65,209.4 a1.35,1.35 0 1,0 2.7,0 a1.35,1.35 0 1,0 -2.7,0Z" fill="#7ba62d"/>
<path d="M881.43,201.26 L884.82,203.19 L889.68,206.13 L894.54,209.08 L897.93,211.01 L899.47,208.79 L896.48,206.29 L892.02,202.77 L887.56,199.24 L884.57,196.74Z M897.35,209.9 a1.35,1.35 0 1,0 2.7,0 a1.35,1.35 0 1,0 -2.7,0Z" fill="#7ba62d"/>
<path d="M878.76,202.26 L879.46,205.9 L880.31,211.24 L881.16,216.58 L881.86,220.23 L884.54,219.97 L884.55,216.26 L884.39,210.86 L884.23,205.45 L884.24,201.74Z M881.85,220.1 a1.35,1.35 0 1,0 2.7,0 a1.35,1.35 0 1,0 -2.7,0Z" fill="#7ba62d"/>
<path d="M878.41,196.26 L874.81,199.25 L869.46,203.48 L864.11,207.71 L860.52,210.7 L862.08,212.9 L866.08,210.48 L871.84,206.82 L877.59,203.16 L881.59,200.74Z M859.95,211.8 a1.35,1.35 0 1,0 2.7,0 a1.35,1.35 0 1,0 -2.7,0Z" fill="#7ba62d"/>
<circle cx="881.5" cy="200" r="3.6" fill="#7ba62d"/>
<circle cx="812" cy="206.5" r="3.6" fill="#7ba62d"/>
<path d="M801.5,166 C802.33,164 803.6,160.5 806,158 C808.4,155.5 811.15,152.92 815.9,151 C820.65,149.08 828.32,146.97 834.5,146.5 C840.68,146.03 846.82,146.88 853,148.2 C859.18,149.52 867.1,152.35 871.6,154.4 C876.1,156.45 878.33,158.23 880,160.5 C881.67,162.77 881.43,164.75 881.6,168 C881.77,171.25 881.35,176.33 881,180 C880.65,183.67 880.67,187.17 879.5,190 C878.33,192.83 876.55,195.3 874,197 C871.45,198.7 867.87,199.3 864.2,200.2 C860.53,201.1 855.58,201.95 852,202.4 C848.42,202.85 846.03,203 842.7,202.9 C839.37,202.8 835.3,202.45 832,201.8 C828.7,201.15 825.9,200.13 822.9,199 C819.9,197.87 816.4,197 814,195 C811.6,193 810.08,189.83 808.5,187 C806.92,184.17 805.75,180.83 804.5,178 C803.25,175.17 801.5,172 801,170 C800.5,168 800.67,168 801.5,166Z" fill="#f3e49a"/>
<path d="M807.3,120.4 C820,122 832,123.5 841.9,126 C852,123.5 864,121 875.3,119.7" fill="none" stroke="#8ab13f" stroke-width="1.3" opacity="0.7"/>
<ellipse cx="816.7" cy="92.1" rx="12.8" ry="11.9" fill="#7ba62d"/>
<ellipse cx="816.7" cy="93.1" rx="9.7" ry="9.4" fill="#fff"/>
<ellipse cx="816.8" cy="92.5" rx="5.9" ry="7.2" fill="#67b946"/>
<ellipse cx="863.8" cy="92.1" rx="12.8" ry="11.9" fill="#7ba62d"/>
<ellipse cx="863.8" cy="93.1" rx="9.7" ry="9.4" fill="#fff"/>
<ellipse cx="863.5" cy="92.5" rx="5.9" ry="7.2" fill="#67b946"/>
<text transform="translate(60.47 57.8) scale(1.0345 1.0318)" font-size="30" font-style="italic">X. laevis</text>
<text transform="translate(228.36 61.9) scale(1.0304 1.0318)" font-size="30" font-style="italic">X. tropicalis</text>
<text transform="translate(465 62.5) scale(0.9735 0.9793)" font-size="30">le×ts hybrids</text>
<text transform="translate(724.53 464.85) scale(1.0278 1.0294)" font-size="30">Embryonic lethal</text>
<text transform="translate(235.27 473.7) scale(1.0363 1.0177)" font-size="30" font-style="italic">X. laevis</text>
<text transform="translate(44.76 542.7) scale(1.0329 1.0177)" font-size="30" font-style="italic">X. tropicalis</text>
<text transform="translate(465.36 542.3) scale(0.9714 0.9747)" font-size="30">te×ls hybrids</text>
<text transform="translate(798.56 539.8) scale(0.9742 1.0435)" font-size="30">H3K4me3</text></svg>
</body></html>
